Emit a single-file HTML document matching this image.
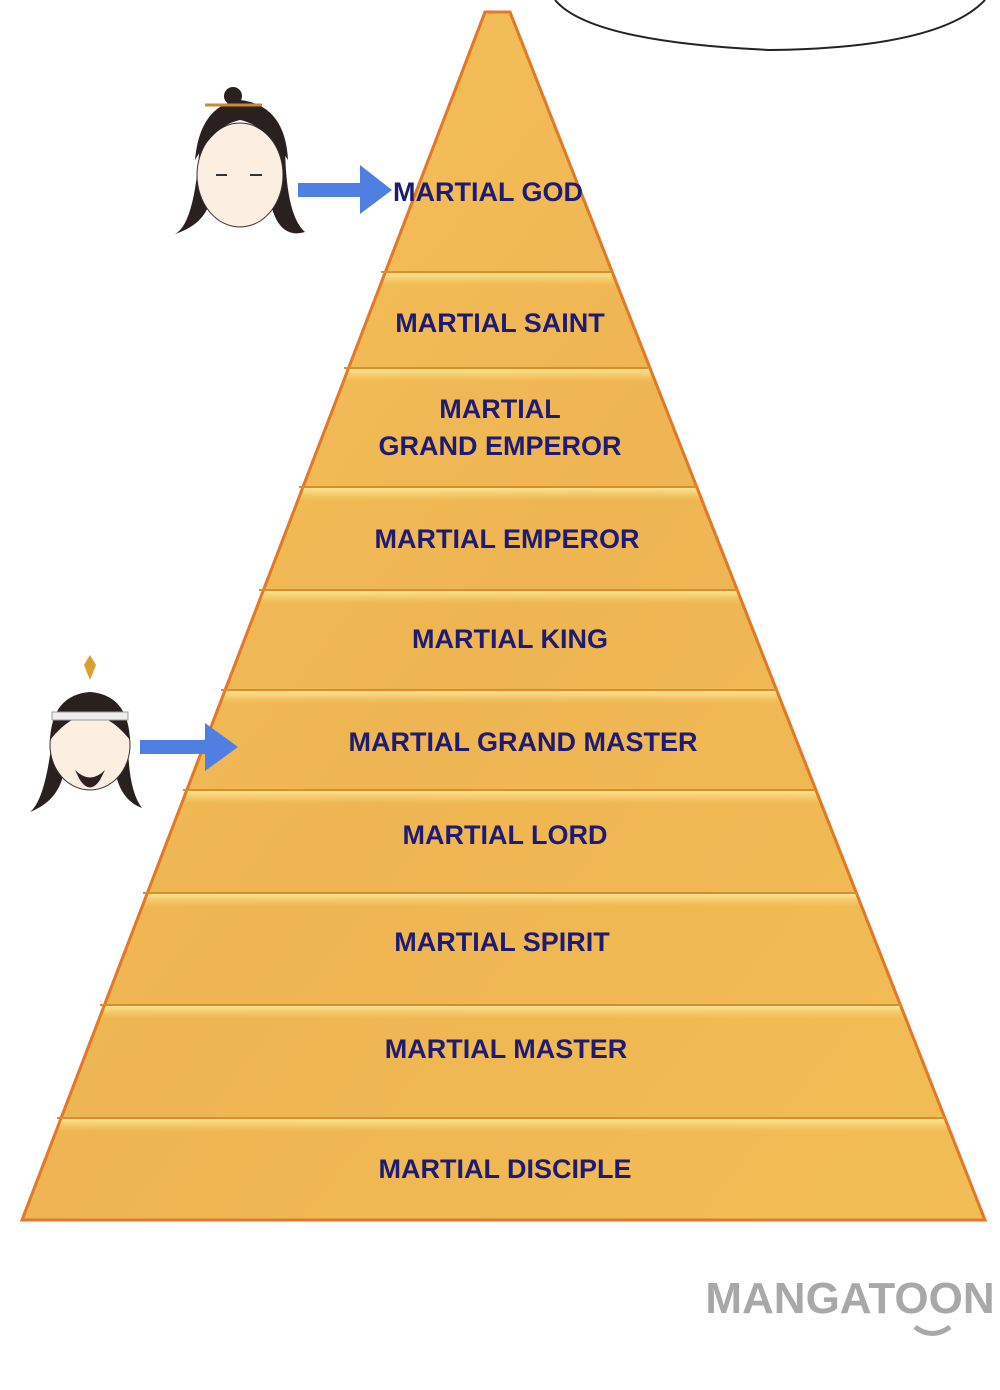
<!DOCTYPE html>
<html><head><meta charset="utf-8"><style>
html,body{margin:0;padding:0;background:#fff;width:1000px;height:1390px;overflow:hidden}
svg{display:block}
text{font-family:"Liberation Sans Narrow","Liberation Sans",sans-serif;font-weight:bold;fill:#1f1b72;font-size:27px;text-anchor:middle}
</style></head><body>
<svg width="1000" height="1390" viewBox="0 0 1000 1390">
<defs>
<linearGradient id="g" x1="0" y1="0" x2="1" y2="1">
<stop offset="0" stop-color="#f7c45a"/><stop offset="0.5" stop-color="#eeb552"/><stop offset="1" stop-color="#f3bd55"/>
</linearGradient>
<linearGradient id="band" x1="0" y1="0" x2="0" y2="1">
<stop offset="0" stop-color="#fff3a8" stop-opacity="0.9"/><stop offset="1" stop-color="#f8d470" stop-opacity="0"/>
</linearGradient>
</defs>
<!-- pyramid -->
<polygon points="485,12 510,12 985,1220 22,1220" fill="url(#g)" stroke="#e07a2a" stroke-width="3"/>
<g fill="url(#band)">
<rect x="0" y="272" width="1000" height="14"/>
<rect x="0" y="368" width="1000" height="14"/>
<rect x="0" y="487" width="1000" height="14"/>
<rect x="0" y="590" width="1000" height="14"/>
<rect x="0" y="690" width="1000" height="14"/>
<rect x="0" y="790" width="1000" height="14"/>
<rect x="0" y="893" width="1000" height="14"/>
<rect x="0" y="1005" width="1000" height="14"/>
<rect x="0" y="1118" width="1000" height="14"/>
</g>
<polygon points="0,0 485,12 22,1220 0,1220" fill="#fff"/>
<polygon points="510,12 1000,0 1000,1220 985,1220" fill="#fff"/>
<polygon points="485,12 510,12 985,1220 22,1220" fill="none" stroke="#e07a2a" stroke-width="3"/>
<!-- speech bubble -->
<path d="M555,0 Q590,42 770,50 Q940,48 985,0" fill="#fff" stroke="#222" stroke-width="2"/>
<g stroke="#e08a30" stroke-width="2">
<line x1="381" y1="272" x2="612" y2="272"/>
<line x1="344" y1="368" x2="650" y2="368"/>
<line x1="299" y1="487" x2="697" y2="487"/>
<line x1="259" y1="590" x2="738" y2="590"/>
<line x1="221" y1="690" x2="777" y2="690"/>
<line x1="183" y1="790" x2="816" y2="790"/>
<line x1="143" y1="893" x2="857" y2="893"/>
<line x1="100" y1="1005" x2="901" y2="1005"/>
<line x1="57" y1="1118" x2="946" y2="1118"/>
</g>
<text x="488" y="201">MARTIAL GOD</text>
<text x="500" y="332">MARTIAL SAINT</text>
<text x="500" y="418">MARTIAL</text>
<text x="500" y="455">GRAND EMPEROR</text>
<text x="507" y="548">MARTIAL EMPEROR</text>
<text x="510" y="648">MARTIAL KING</text>
<text x="523" y="751">MARTIAL GRAND MASTER</text>
<text x="505" y="844">MARTIAL LORD</text>
<text x="502" y="951">MARTIAL SPIRIT</text>
<text x="506" y="1058">MARTIAL MASTER</text>
<text x="505" y="1178">MARTIAL DISCIPLE</text>
<!-- arrows -->
<polygon points="298,183 360,183 360,165 392,190 360,214 360,197 298,197" fill="#4f7fe0"/>
<polygon points="140,740 205,740 205,723 238,747 205,771 205,754 140,754" fill="#4f7fe0"/>
<!-- character 1 -->
<g>
<path d="M200,140 Q195,230 172,235 Q205,225 210,200 L270,200 Q278,240 305,232 Q285,215 285,140 Z" fill="#2a2020"/>
<ellipse cx="240" cy="175" rx="43" ry="52" fill="#fdeee2" stroke="#333"/>
<path d="M195,160 Q200,105 240,100 Q285,105 288,160 Q265,125 240,120 Q215,125 195,160Z" fill="#2a2020"/>
<circle cx="233" cy="96" r="9" fill="#2a2020"/>
<line x1="205" y1="105" x2="262" y2="105" stroke="#c98a30" stroke-width="3"/>
<line x1="216" y1="175" x2="227" y2="175" stroke="#333" stroke-width="2"/>
<line x1="250" y1="175" x2="262" y2="175" stroke="#333" stroke-width="2"/>
</g>
<!-- character 2 -->
<g>
<path d="M52,740 Q45,800 30,812 Q60,800 64,770 L115,770 Q120,800 142,808 Q128,790 128,740Z" fill="#2a2020"/>
<ellipse cx="90" cy="745" rx="40" ry="45" fill="#fdeee2" stroke="#333"/>
<path d="M50,740 Q52,695 90,692 Q128,695 130,740 Q110,715 90,715 Q70,715 50,740Z" fill="#2a2020"/>
<rect x="52" y="712" width="76" height="8" fill="#eee" stroke="#999"/>
<polygon points="84,665 90,680 96,665 90,655" fill="#d9a030"/>
<path d="M75,770 Q90,785 105,770 L100,780 Q90,795 80,780Z" fill="#2a2020"/>
</g>
<!-- watermark -->
<text x="850" y="1313" style="font-family:'Liberation Sans',sans-serif;font-size:44px;fill:#a8a8a8;font-weight:bold">MANGATOON</text>
<path d="M915,1327 Q932,1340 950,1327" stroke="#a8a8a8" stroke-width="5" fill="none"/>
</svg>
</body></html>
